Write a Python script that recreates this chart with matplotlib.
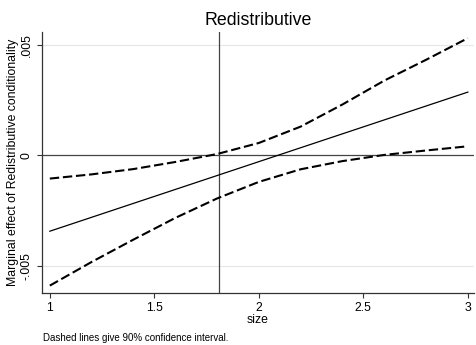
import matplotlib
matplotlib.use("Agg")
import matplotlib.pyplot as plt
import numpy as np

plt.rcParams['font.family'] = ['Liberation Sans', 'DejaVu Sans']

# values
size_grid = [1.0, 1.2, 1.4, 1.6, 1.8, 2.0, 2.2, 2.4, 2.6, 2.8, 3.0]
upper_ci = [-0.00105, -0.00086, -0.00062, -0.00030, 0.00006, 0.00056,
            0.00130, 0.00230, 0.00338, 0.00432, 0.00530]
lower_ci = [-0.00589, -0.00482, -0.00381, -0.00283, -0.00195, -0.00120,
            -0.00063, -0.00026, 0.00002, 0.00022, 0.00041]
effect_x = [1.0, 3.0]
effect_y = [-0.00343, 0.00286]
mean_size = 1.811

xticks = [1, 1.5, 2, 2.5, 3]
xticklabels = ['1', '1.5', '2', '2.5', '3']
yticks = [-0.005, 0, 0.005]
yticklabels = ['-.005', '0', '.005']

fig = plt.figure(figsize=(4.76, 3.45), dpi=100)
ax = fig.add_axes([0.088, 0.151, 0.908, 0.757])

ax.plot(effect_x, effect_y, color='black', lw=0.9)
ax.plot(size_grid, upper_ci, color='black', lw=1.5, dashes=(4.5, 1.8))
ax.plot(size_grid, lower_ci, color='black', lw=1.5, dashes=(4.5, 1.8))
ax.axhline(0, color='#444444', lw=0.9, zorder=1)
ax.axvline(mean_size, color='#444444', lw=0.9, zorder=1)
for yv in [-0.005, 0.005]:
    ax.axhline(yv, color='#e6e6e6', lw=0.8, zorder=0)

ax.set_xlim(0.962, 3.03)
ax.set_ylim(-0.00622, 0.00559)
ax.set_xticks(xticks)
ax.set_xticklabels(xticklabels, fontsize=8.8)
ax.set_yticks(yticks)
ax.set_yticklabels(yticklabels, fontsize=8.8, rotation=90, va='center')
ax.tick_params(axis='both', direction='out', length=3.6, width=0.8, color='#333333', pad=3)

for s in ['top', 'right']:
    ax.spines[s].set_visible(False)
for s in ['left', 'bottom']:
    ax.spines[s].set_color('#333333')
    ax.spines[s].set_linewidth(0.9)

ax.set_xlabel('size', fontsize=8.8, labelpad=0)
ax.set_ylabel('Marginal effect of Redistributive conditionality', fontsize=8.8, labelpad=1)
ax.set_title('Redistributive', fontsize=12.8, pad=5)

fig.text(0.09, 0.012, 'Dashed lines give 90% confidence interval.', fontsize=7)

fig.savefig('out.png', dpi=100)
